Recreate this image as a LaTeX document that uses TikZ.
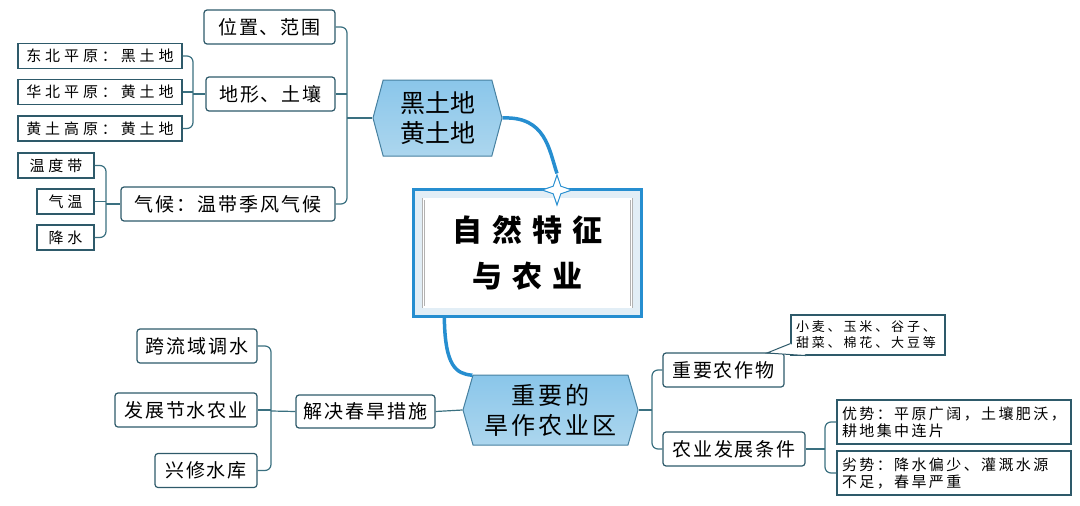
\documentclass[tikz,border=0pt]{standalone}
\usepackage{fontspec}
\newfontfamily\zh{Noto Sans CJK SC}
\newfontfamily\zhmid[LetterSpace=10]{Noto Sans CJK SC}
\newfontfamily\zhhex[LetterSpace=12]{Noto Sans CJK SC}
\newfontfamily\zhwide[LetterSpace=26]{Noto Sans CJK SC}
\newfontfamily\zhnote[LetterSpace=16]{Noto Sans CJK SC}
\newfontfamily\zhsmall[LetterSpace=22]{Noto Sans CJK SC}
\newfontfamily\zhtitle[LetterSpace=33]{Noto Sans CJK SC}
\usetikzlibrary{shapes.symbols,shapes.geometric,calc}
\definecolor{linec}{RGB}{58,112,128}
\definecolor{boxc}{RGB}{46,90,106}
\definecolor{cblue}{RGB}{38,142,208}
\definecolor{cfill}{RGB}{226,238,246}
\definecolor{hxtop}{RGB}{138,198,234}
\definecolor{hxmid}{RGB}{234,245,251}
\definecolor{hxbot}{RGB}{172,214,238}
\definecolor{hxline}{RGB}{70,128,160}
\begin{document}
\begin{tikzpicture}[x=1pt,y=-1pt,line width=1.2pt,
  branch/.style={draw=linec,rounded corners=6pt},
  topic/.style={draw=boxc,fill=white,rounded corners=3pt,inner sep=0pt,minimum height=34,font=\zhmid\fontsize{19}{22}\selectfont},
  leaf/.style={draw=boxc,fill=white,inner sep=0pt,minimum height=25,font=\zhwide\fontsize{15}{18}\selectfont},
  hexa/.style={signal,signal to=east and west,draw=hxline,line width=1pt,top color=hxtop,middle color=hxmid,bottom color=hxbot,inner sep=0pt,align=center},
  note/.style={draw=boxc,fill=white,inner xsep=5pt,inner ysep=0pt,align=left},
  link/.style={draw=cblue,line width=3.5pt}]
\useasboundingbox (0,0) rectangle (1080,506);
\node[draw=cblue,line width=3pt,fill=cfill,minimum width=228,minimum height=127] (cen) at (527.5,253) {};
\node[draw=gray!60,double=white,double distance=1.5pt,line width=.5pt,fill=white,minimum width=208,minimum height=108,align=center,font=\zhtitle\bfseries\fontsize{30}{46}\selectfont] (title) at (cen) {自然特征\\与农业};
\node[hexa,signal pointer angle=150,minimum width=129,minimum height=76,font=\zh\fontsize{25}{30}\selectfont] (hx1) at (437.5,118) {黑土地\\黄土地};
\node[hexa,signal pointer angle=148,minimum width=175,minimum height=70,font=\zhhex\fontsize{24}{30}\selectfont] (hx2) at (550.5,410) {重要的\\旱作农业区};
\node[star,star points=4,star point ratio=2.8,minimum size=30,inner sep=0pt,draw=cblue,fill=white,line width=1pt] (star) at (557,190) {};
\draw[link] (hx1.east) .. controls (546,116) and (549,150) .. (star.north);
\draw[link] ($(cen.south west)!0.14!(cen.south east)$) .. controls (445,366) and (456,374) .. (hx2.156);
\node[topic,minimum width=131] (pos) at (269.5,27) {位置、范围};
\node[topic,minimum width=129] (land) at (270.5,94) {地形、土壤};
\node[topic,minimum width=214] (clim) at (228,204) {气候：温带季风气候};
\foreach \n/\y/\t in {ne/56/东北平原：黑土地,nc/92/华北平原：黄土地,lp/128.5/黄土高原：黄土地}
  \node[leaf,minimum width=164] (\n) at (100,\y) {\t};
\node[leaf,minimum width=76] (tz) at (56,165.5) {温度带};
\foreach \n/\y/\t in {qw/201.5/气温,js/237.5/降水}
  \node[leaf,minimum width=57] (\n) at (65.5,\y) {\t};
\node[topic,minimum width=121] (crop) at (723.5,370) {重要农作物};
\node[topic,minimum width=142] (cond) at (734,449) {农业发展条件};
\node[note,text width=144,minimum height=40,font=\zhsmall\fontsize{13}{16}\selectfont] (cal) at (868,335) {小麦、玉米、谷子、\\甜菜、棉花、大豆等};
\node[note,text width=224,minimum height=44,font=\zhnote\fontsize{15}{17}\selectfont] (adv) at (954,422) {优势：平原广阔，土壤肥沃，\\耕地集中连片};
\node[note,text width=224,minimum height=44,font=\zhnote\fontsize{15}{17}\selectfont] (dis) at (954,473) {劣势：降水偏少、灌溉水源\\不足，春旱严重};
\node[topic,minimum width=139,minimum height=33] (sol) at (365.5,411.5) {解决春旱措施};
\foreach \n/\x/\y/\w/\t in {m1/197/346/120/跨流域调水,m2/186/410/142/发展节水农业,m3/206/470.5/102/兴修水库}
  \node[topic,minimum width=\w] (\n) at (\x,\y) {\t};
\coordinate (j1) at (347,118);
\coordinate (j2) at (193,94);
\coordinate (j3) at (106,204);
\coordinate (j4) at (652,410);
\coordinate (j5) at (825,449);
\coordinate (j6) at (271,411);
\coordinate (tip) at (767,353);
\draw[branch] (pos.east) -| (j1) |- (clim.east);
\draw[branch] (land.east) -- (land.east -| j1);
\draw[branch] (j1) -- (hx1.west);
\draw[branch] (ne.east) -| (j2) |- (lp.east);
\draw[branch] (nc.east) -- (nc.east -| j2);
\draw[branch] (j2) -- (land.west);
\draw[branch] (tz.east) -| (j3) |- (js.east);
\draw[branch] (qw.east) -- (qw.east -| j3);
\draw[branch] (j3) -- (clim.west);
\draw[branch] (crop.west) -| (j4) |- (cond.west);
\draw[branch] (hx2.east) -- (j4);
\draw[branch] (adv.west) -| (j5) |- (dis.west);
\draw[branch] (cond.east) -- (j5);
\draw[branch] (m1.east) -| (j6) |- (m3.east);
\draw[branch] (m2.east) -- (m2.east -| j6);
\draw[branch] (j6) -- (sol.west);
\draw[branch] (sol.east) -- (hx2.west);
\draw[draw=boxc,fill=white,line width=1pt] ($(cal.south west)+(0,-12)$) -- (tip) -- ($(cal.south west)+(16,0)$);
\end{tikzpicture}
\end{document}
